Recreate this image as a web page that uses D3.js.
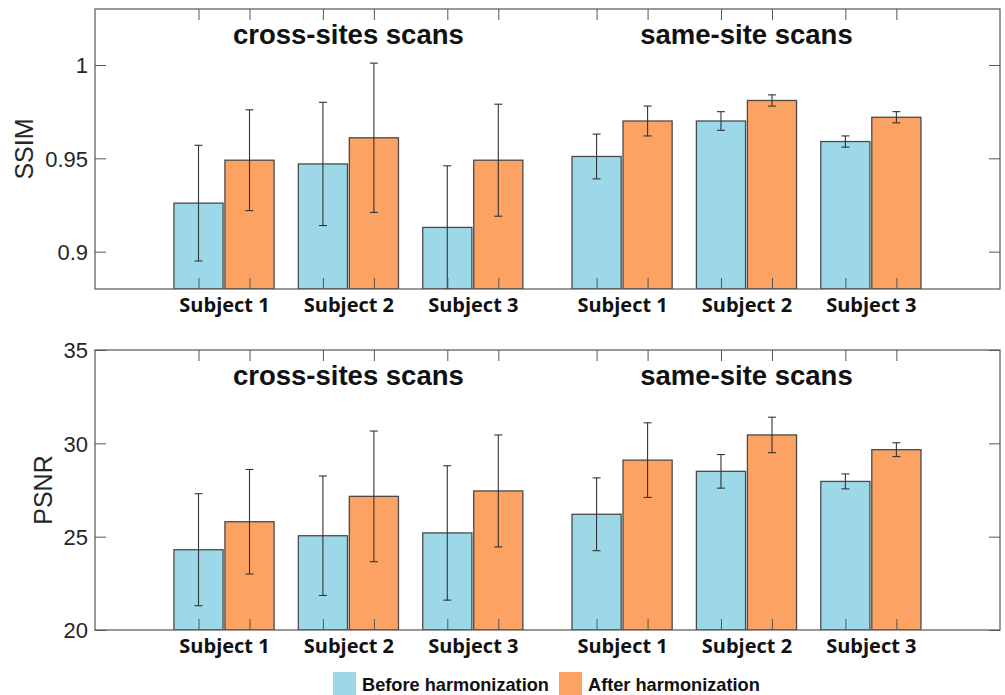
<!DOCTYPE html>
<html>
<head>
<meta charset="utf-8">
<script src="https://cdn.jsdelivr.net/npm/d3@7"></script>
<style>
  html, body { margin: 0; padding: 0; background: #fff; }
  svg { display: block; }
</style>
</head>
<body>
<svg id="chart" width="1005" height="695"></svg>
<script>
// Subjects and their positions along the x axis (a gap separates the two scan groups)
const subjects = ["Subject 1", "Subject 2", "Subject 3", "Subject 1", "Subject 2", "Subject 3"];
const subjectPos = [1, 2, 3, 4.2, 5.2, 6.2];
const sectionTitles = ["cross-sites scans", "same-site scans"];
const sectionPos = [2, 5.2];
const seriesNames = ["Before harmonization", "After harmonization"];
const seriesColors = ["#9dd8e8", "#fca263"];

// SSIM means and standard deviations
const ssimBefore    = [0.926, 0.947, 0.913, 0.951, 0.970, 0.959];
const ssimBeforeErr = [0.031, 0.033, 0.033, 0.012, 0.005, 0.003];
const ssimAfter     = [0.949, 0.961, 0.949, 0.970, 0.981, 0.972];
const ssimAfterErr  = [0.027, 0.040, 0.030, 0.008, 0.003, 0.003];
const ssimTicks = [0.9, 0.95, 1];
const ssimDomain = [0.88, 1.03];

// PSNR means and standard deviations
const psnrBefore    = [24.3, 25.05, 25.2, 26.2, 28.5, 27.96];
const psnrBeforeErr = [3.0, 3.2, 3.6, 1.95, 0.9, 0.4];
const psnrAfter     = [25.8, 27.16, 27.45, 29.1, 30.45, 29.66];
const psnrAfterErr  = [2.8, 3.5, 3.0, 2.0, 0.95, 0.37];
const psnrTicks = [20, 25, 30, 35];
const psnrDomain = [20, 35];

const svg = d3.select("#chart");
const left = 95, right = 1000;
const barOffset = 0.205, barWidth = 0.395;

const x = d3.scaleLinear().domain([-0.037, 7.238]).range([left, right]);

function panel(opts) {
  const { top, bottom, domain, ticks, tickFmt, label, labelX, before, beforeErr, after, afterErr, id } = opts;
  const y = d3.scaleLinear().domain(domain).range([bottom, top]);
  const g = svg.append("g");

  g.append("clipPath").attr("id", id)
    .append("rect").attr("x", left).attr("y", top).attr("width", right - left).attr("height", bottom - top);

  const plot = g.append("g").attr("clip-path", `url(#${id})`);

  const series = [
    { vals: before, errs: beforeErr, off: -barOffset, color: seriesColors[0] },
    { vals: after,  errs: afterErr,  off:  barOffset, color: seriesColors[1] }
  ];
  const barPx = x(barWidth) - x(0);

  series.forEach(s => {
    const rows = s.vals.map((v, i) => ({ v, e: s.errs[i], c: subjectPos[i] + s.off }));
    plot.selectAll(null).data(rows).enter().append("rect")
      .attr("x", d => x(d.c) - barPx / 2)
      .attr("y", d => y(d.v))
      .attr("width", barPx)
      .attr("height", d => y(domain[0]) - y(d.v))
      .attr("fill", s.color)
      .attr("stroke", "#4a4a4a")
      .attr("stroke-width", 1.3);
  });

  // tick marks at each bar centre, top and bottom, pointing inward
  const barCentres = [];
  subjectPos.forEach(p => { barCentres.push(p - barOffset, p + barOffset); });
  const tickColor = "#555";
  g.append("g").attr("transform", `translate(0,${bottom})`)
    .call(d3.axisTop(x).tickValues(barCentres).tickFormat("").tickSize(11).tickSizeOuter(0))
    .call(a => a.select(".domain").remove())
    .call(a => a.selectAll("line").attr("stroke", tickColor));
  g.append("g").attr("transform", `translate(0,${top})`)
    .call(d3.axisBottom(x).tickValues(barCentres).tickFormat("").tickSize(11).tickSizeOuter(0))
    .call(a => a.select(".domain").remove())
    .call(a => a.selectAll("line").attr("stroke", tickColor));

  // error bars
  series.forEach(s => {
    const rows = s.vals.map((v, i) => ({ v, e: s.errs[i], c: subjectPos[i] + s.off }));
    const eb = plot.selectAll(null).data(rows).enter().append("g")
      .attr("stroke", "#333").attr("stroke-width", 1.1);
    eb.append("line")
      .attr("x1", d => x(d.c)).attr("x2", d => x(d.c))
      .attr("y1", d => y(d.v - d.e)).attr("y2", d => y(d.v + d.e));
    eb.append("line")
      .attr("x1", d => x(d.c) - 4).attr("x2", d => x(d.c) + 4)
      .attr("y1", d => y(d.v + d.e)).attr("y2", d => y(d.v + d.e));
    eb.append("line")
      .attr("x1", d => x(d.c) - 4).attr("x2", d => x(d.c) + 4)
      .attr("y1", d => y(d.v - d.e)).attr("y2", d => y(d.v - d.e));
  });

  // y axis (left with labels, right mirrored)
  g.append("g").attr("transform", `translate(${left},0)`)
    .call(d3.axisRight(y).tickValues(ticks).tickSize(11).tickFormat(""))
    .call(a => a.select(".domain").remove())
    .call(a => a.selectAll("line").attr("stroke", tickColor));
  g.append("g").attr("transform", `translate(${right},0)`)
    .call(d3.axisLeft(y).tickValues(ticks).tickSize(11).tickFormat(""))
    .call(a => a.select(".domain").remove())
    .call(a => a.selectAll("line").attr("stroke", tickColor));
  g.append("g").attr("transform", `translate(${left},0)`)
    .call(d3.axisLeft(y).tickValues(ticks).tickSize(0).tickPadding(7).tickFormat(tickFmt))
    .call(a => a.select(".domain").remove())
    .call(a => a.selectAll("text")
      .attr("font-family", "'Liberation Sans', Arial, sans-serif")
      .attr("font-size", 22).attr("fill", "#262626").attr("dy", "0.36em"));

  // subject labels under each group
  g.append("g").attr("transform", `translate(0,${bottom})`)
    .call(d3.axisBottom(x).tickValues(subjectPos).tickSize(0).tickPadding(9)
      .tickFormat((d, i) => subjects[i]))
    .call(a => a.select(".domain").remove())
    .call(a => a.selectAll("text")
      .attr("font-family", "'Open Sans', 'Noto Sans', sans-serif")
      .attr("font-weight", "bold").attr("font-size", 20).attr("fill", "#111"));

  // frame
  g.append("rect").attr("x", left).attr("y", top)
    .attr("width", right - left).attr("height", bottom - top)
    .attr("fill", "none").attr("stroke", "#555").attr("stroke-width", 1.2);

  // section titles
  g.selectAll(null).data(sectionTitles).enter().append("text")
    .attr("x", (d, i) => x(sectionPos[i]))
    .attr("y", top + 35)
    .attr("text-anchor", "middle")
    .attr("font-family", "'Liberation Sans', Arial, sans-serif")
    .attr("font-weight", "bold").attr("font-size", 27.5).attr("fill", "#111")
    .text(d => d);

  // axis title
  g.append("text")
    .attr("transform", `translate(${labelX},${(top + bottom) / 2}) rotate(-90)`)
    .attr("text-anchor", "middle")
    .attr("font-family", "'Liberation Sans', Arial, sans-serif")
    .attr("font-size", 25).attr("fill", "#262626")
    .text(label);
}

panel({ id: "clipSSIM", top: 9, bottom: 289, domain: ssimDomain, ticks: ssimTicks,
        tickFmt: d => d === 1 ? "1" : d3.format(".2~f")(d), label: "SSIM", labelX: 33,
        before: ssimBefore, beforeErr: ssimBeforeErr, after: ssimAfter, afterErr: ssimAfterErr });
panel({ id: "clipPSNR", top: 350, bottom: 630, domain: psnrDomain, ticks: psnrTicks,
        tickFmt: d3.format("d"), label: "PSNR", labelX: 52,
        before: psnrBefore, beforeErr: psnrBeforeErr, after: psnrAfter, afterErr: psnrAfterErr });

// legend
const legendX = [333, 559];
const legend = svg.append("g");
seriesNames.forEach((name, i) => {
  legend.append("rect").attr("x", legendX[i]).attr("y", 672)
    .attr("width", 23).attr("height", 23).attr("fill", seriesColors[i]);
  legend.append("text").attr("x", legendX[i] + 29).attr("y", 691)
    .attr("font-family", "'Liberation Sans', Arial, sans-serif")
    .attr("font-weight", "bold").attr("font-size", 18.2).attr("fill", "#111")
    .text(name);
});
</script>
</body>
</html>
